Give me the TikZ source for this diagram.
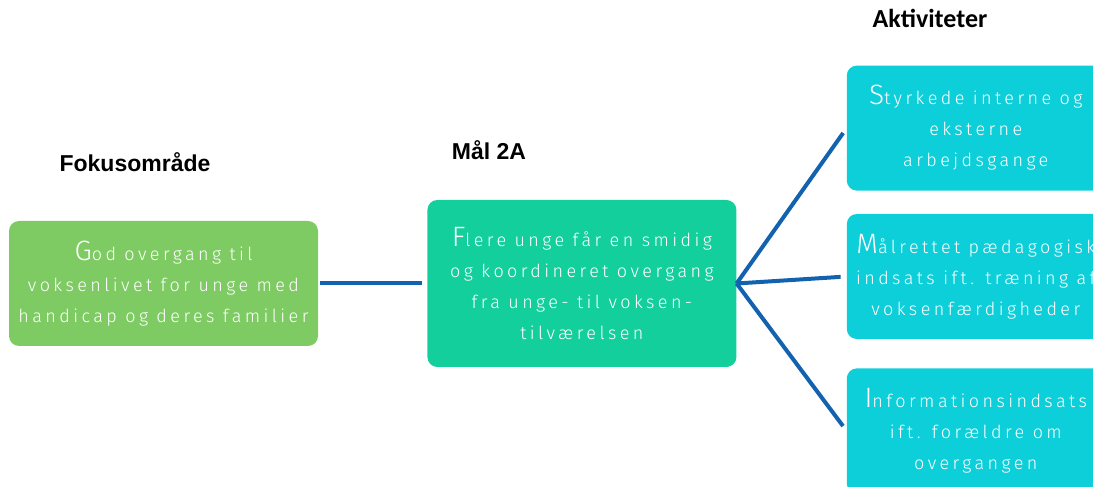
\documentclass[tikz,border=0pt]{standalone}
\usepackage{fontspec}
\setmainfont{Liberation Sans}
\newfontfamily\boxfont[LetterSpace=19]{Fira Sans Light}
\newfontfamily\calibrifont{Carlito}
\usetikzlibrary{positioning}

\definecolor{focusgreen}{HTML}{7DCB62}
\definecolor{goalgreen}{HTML}{13CF9B}
\definecolor{actcyan}{HTML}{0DCFD9}
\definecolor{linkblue}{HTML}{1262AF}

\newcommand{\firstletter}[1]{{\fontsize{28}{31}\selectfont #1}}

\tikzset{
  box/.style={rounded corners=10pt, inner sep=0pt, align=center, text=white,
    font=\boxfont\fontsize{18}{31}\selectfont},
  focusbox/.style={box, fill=focusgreen, minimum width=309pt, minimum height=125pt},
  goalbox/.style={box, fill=goalgreen, minimum width=309pt, minimum height=167pt},
  actbox/.style={box, fill=actcyan, minimum width=258pt, minimum height=125pt},
  heading/.style={font=\bfseries\fontsize{23}{23}\selectfont, anchor=base},
  link/.style={draw=linkblue, line width=4pt},
}

\begin{document}
\begin{tikzpicture}[x=1pt, y=1pt]
  \useasboundingbox (0,0) rectangle (1093,487);
  \clip (0,0) rectangle (1093,487);

  \node[focusbox] (focus) at (163.5,203.5)
    {\firstletter{G}od overgang til\\voksenlivet for unge med\\handicap og deres familier};
  \node[goalbox, right=109pt of focus] (goal)
    {\firstletter{F}lere unge får en smidig\\og koordineret overgang\\fra unge- til voksen-\\tilværelsen};
  \node[actbox, right=110pt of goal, yshift=7pt] (act2)
    {\firstletter{M}ålrettet pædagogisk\\indsats ift. træning af\\voksenfærdigheder};
  \node[actbox, above=23pt of act2] (act1)
    {\firstletter{S}tyrkede interne og\\eksterne\\arbejdsgange};
  \node[actbox, below=29pt of act2] (act3)
    {\firstletter{I}nformationsindsats\\ift. forældre om\\overgangen};

  \node[heading] (focuslabel) at (135,315) {Fokusområde};
  \node[heading] (goallabel) at (489,327) {Mål 2A};
  \node[heading, font=\calibrifont\bfseries\fontsize{26}{26}\selectfont] (actlabel) at (930,459) {Aktiviteter};

  \draw[link, shorten <=2pt, shorten >=5pt] (focus.east) -- (goal.west);
  \foreach \act in {act1, act2, act3}
    \draw[link, shorten >=6pt] (goal.east) -- (\act.west);
\end{tikzpicture}
\end{document}
